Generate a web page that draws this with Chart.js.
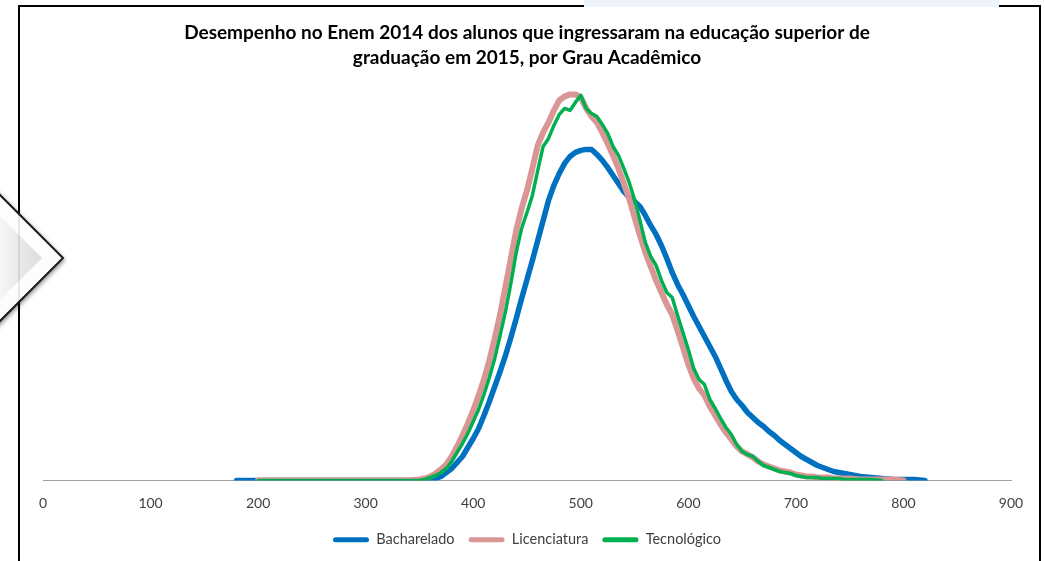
<!DOCTYPE html>
<html>
<head>
<meta charset="utf-8">
<script src="https://cdn.jsdelivr.net/npm/chart.js@4.4.1/dist/chart.umd.min.js"></script>
<style>
  html, body { margin: 0; padding: 0; background: #fff; }
  canvas { display: block; }
</style>
</head>
<body>
<canvas id="enem-chart" width="1045" height="561"></canvas>
<script>
// Enem 2014 score (x) and share of students (%) per score point
const scores = [
    180, 190, 200, 210, 220, 230, 240, 250, 260, 270, 280, 290, 300, 310, 320, 330, 340,
    350, 355, 360, 365, 370, 375, 380, 385, 390, 395, 400, 405, 410, 415, 420, 425, 430, 435, 440, 445,
    450, 455, 460, 465, 470, 475, 480, 485, 490, 495, 500, 505, 510, 515, 520, 525, 530, 535, 540, 545,
    550, 555, 560, 565, 570, 575, 580, 585, 590, 595, 600, 605, 610, 615, 620, 625, 630, 635, 640, 645,
    650, 655, 660, 665, 670, 675, 680, 685, 690, 695, 700, 705, 710, 715, 720, 725, 730, 735, 740, 745,
    750, 760, 770, 780, 790, 800, 810, 820
];

const bacharelado = [
    0, 0, 0, 0, 0, 0, 0, 0, 0, 0, 0, 0, 0, 0, 0, 0, 0,
    0, 0, 0, 0.002, 0.004, 0.008, 0.012, 0.018, 0.024, 0.033, 0.042, 0.052, 0.065, 0.079, 0.094, 0.109, 0.125, 0.143, 0.162, 0.182,
    0.201, 0.220, 0.240, 0.260, 0.280, 0.295, 0.307, 0.317, 0.324, 0.328, 0.330, 0.331, 0.331, 0.326, 0.320, 0.313, 0.305, 0.297, 0.289, 0.283,
    0.279, 0.274, 0.265, 0.255, 0.246, 0.235, 0.222, 0.208, 0.196, 0.186, 0.175, 0.164, 0.154, 0.144, 0.134, 0.124, 0.112, 0.100, 0.089, 0.081,
    0.075, 0.068, 0.063, 0.058, 0.054, 0.049, 0.045, 0.040, 0.036, 0.032, 0.028, 0.024, 0.021, 0.018, 0.015, 0.013, 0.011, 0.009, 0.008, 0.007,
    0.006, 0.004, 0.003, 0.002, 0.001, 0.001, 0.001, 0
];

const licenciatura = [
    null, null, 0, 0, 0, 0, 0, 0, 0, 0, 0, 0, 0, 0, 0, 0, 0,
    0.001, 0.002, 0.004, 0.007, 0.011, 0.016, 0.024, 0.034, 0.045, 0.057, 0.070, 0.085, 0.101, 0.120, 0.142, 0.166, 0.194, 0.222, 0.250, 0.272,
    0.290, 0.312, 0.335, 0.348, 0.358, 0.370, 0.380, 0.384, 0.386, 0.386, 0.383, 0.372, 0.364, 0.358, 0.348, 0.337, 0.325, 0.312, 0.297, 0.282,
    0.263, 0.245, 0.228, 0.214, 0.200, 0.188, 0.176, 0.166, 0.150, 0.133, 0.116, 0.102, 0.092, 0.085, 0.074, 0.065, 0.056, 0.048, 0.041, 0.034,
    0.029, 0.026, 0.023, 0.019, 0.016, 0.014, 0.012, 0.010, 0.009, 0.008, 0.006, 0.005, 0.004, 0.004, 0.003, 0.003, 0.003, 0.002, 0.002, 0.002,
    0.002, 0.001, 0.001, 0.001, 0.001, 0, null, null
];

const tecnologico = [
    null, null, 0, 0, 0, 0, 0, 0, 0, 0, 0, 0, 0, 0, 0, 0, 0,
    0, 0.001, 0.003, 0.005, 0.008, 0.012, 0.019, 0.028, 0.037, 0.047, 0.059, 0.071, 0.086, 0.103, 0.122, 0.145, 0.169, 0.197, 0.228, 0.252,
    0.268, 0.285, 0.310, 0.334, 0.342, 0.355, 0.366, 0.372, 0.370, 0.378, 0.385, 0.372, 0.367, 0.364, 0.356, 0.347, 0.334, 0.325, 0.312, 0.298,
    0.281, 0.260, 0.238, 0.224, 0.215, 0.200, 0.188, 0.183, 0.165, 0.148, 0.131, 0.112, 0.101, 0.096, 0.081, 0.072, 0.062, 0.053, 0.046, 0.036,
    0.029, 0.026, 0.024, 0.019, 0.015, 0.013, 0.011, 0.009, 0.008, 0.007, 0.005, 0.004, 0.003, 0.003, 0.003, 0.002, 0.002, 0.002, 0.002, 0.001,
    0.001, 0.001, 0.001, 0, null, null, null, null
];

const xTicks = [0, 100, 200, 300, 400, 500, 600, 700, 800, 900];
const titleLines = [
    'Desempenho no Enem 2014 dos alunos que ingressaram na educação superior de',
    'graduação em 2015, por Grau Acadêmico'
];

const FONT = 'Lato, "Open Sans", sans-serif';

function toPoints(values) {
    return scores.map((s, i) => ({ x: s, y: values[i] }));
}

// frame, top strip and the arrow shape that sit around the chart in the picture
const decor = {
    id: 'decor',
    beforeDraw(chart) {
        const c = chart.ctx;
        c.save();
        c.fillStyle = '#fff';
        c.fillRect(0, 0, chart.width, chart.height);
        c.strokeStyle = '#000';
        c.lineWidth = 2;
        c.beginPath();
        c.moveTo(19, 561);
        c.lineTo(19, 6);
        c.lineTo(1040, 6);
        c.lineTo(1040, 561);
        c.stroke();
        c.fillStyle = '#eef2fa';
        c.fillRect(584, 0, 415, 7);
        c.restore();
    },
    afterDraw(chart) {
        const c = chart.ctx;
        c.save();
        // outer arrow
        c.shadowColor = 'rgba(0,0,0,0.45)';
        c.shadowBlur = 4;
        c.shadowOffsetX = 2;
        c.shadowOffsetY = 2;
        c.beginPath();
        c.moveTo(-20, 175);
        c.lineTo(63, 258);
        c.lineTo(-20, 341);
        c.closePath();
        c.fillStyle = '#fdfdfd';
        c.fill();
        c.shadowColor = 'transparent';
        c.strokeStyle = '#1c1c1c';
        c.lineWidth = 2;
        c.stroke();
        // inner shaded part
        const g = c.createLinearGradient(0, 0, 42, 0);
        g.addColorStop(0, '#f6f6f6');
        g.addColorStop(1, '#dcdcdc');
        c.beginPath();
        c.moveTo(-20, 196);
        c.lineTo(42, 258);
        c.lineTo(-20, 320);
        c.closePath();
        c.fillStyle = g;
        c.fill();
        // frame line seen through the arrow
        c.strokeStyle = 'rgba(0,0,0,0.12)';
        c.lineWidth = 1.5;
        c.beginPath();
        c.moveTo(19, 190);
        c.lineTo(19, 326);
        c.stroke();
        c.restore();
    }
};

new Chart(document.getElementById('enem-chart'), {
    type: 'line',
    data: {
        datasets: [
            {
                label: 'Bacharelado',
                data: toPoints(bacharelado),
                borderColor: '#0070C0',
                backgroundColor: '#0070C0',
                borderWidth: 5.5,
                order: 2
            },
            {
                label: 'Licenciatura',
                data: toPoints(licenciatura),
                borderColor: '#D99694',
                backgroundColor: '#D99694',
                borderWidth: 6,
                order: 1
            },
            {
                label: 'Tecnológico',
                data: toPoints(tecnologico),
                borderColor: '#00B050',
                backgroundColor: '#00B050',
                borderWidth: 3.5,
                order: 0
            }
        ]
    },
    options: {
        responsive: false,
        animation: false,
        events: [],
        elements: {
            point: { radius: 0 },
            line: { tension: 0, borderJoinStyle: 'round', borderCapStyle: 'round', fill: false }
        },
        layout: { padding: { left: 43, right: 34, top: 0, bottom: 4 } },
        plugins: {
            title: {
                display: true,
                text: titleLines,
                color: '#000',
                font: { family: FONT, size: 19, weight: 'bold', lineHeight: 1.3 },
                padding: { top: 21, bottom: 10 }
            },
            legend: {
                position: 'bottom',
                labels: {
                    color: '#404040',
                    font: { family: FONT, size: 14.5 },
                    boxWidth: 36,
                    boxHeight: 5,
                    padding: 14,
                    useBorderRadius: true,
                    borderRadius: 2.5,
                    sort: (a, b) => a.datasetIndex - b.datasetIndex,
                    generateLabels(chart) {
                        return chart.data.datasets.map((ds, i) => ({
                            text: ds.label,
                            fillStyle: ds.borderColor,
                            strokeStyle: ds.borderColor,
                            lineWidth: 0,
                            fontColor: '#404040',
                            borderRadius: 2.5,
                            datasetIndex: i
                        }));
                    }
                }
            },
            tooltip: { enabled: false }
        },
        scales: {
            x: {
                type: 'linear',
                min: 0,
                max: 900,
                afterBuildTicks: (scale) => { scale.ticks = xTicks.map(v => ({ value: v })); },
                afterFit: (scale) => { scale.height = 38; },
                ticks: { color: '#404040', font: { family: FONT, size: 14 }, padding: 15, maxRotation: 0 },
                grid: { display: false, drawTicks: false },
                border: { display: true, color: '#a0a0a0', width: 1 }
            },
            y: {
                display: false,
                min: 0,
                max: 0.4
            }
        }
    },
    plugins: [decor]
});
</script>
</body>
</html>
